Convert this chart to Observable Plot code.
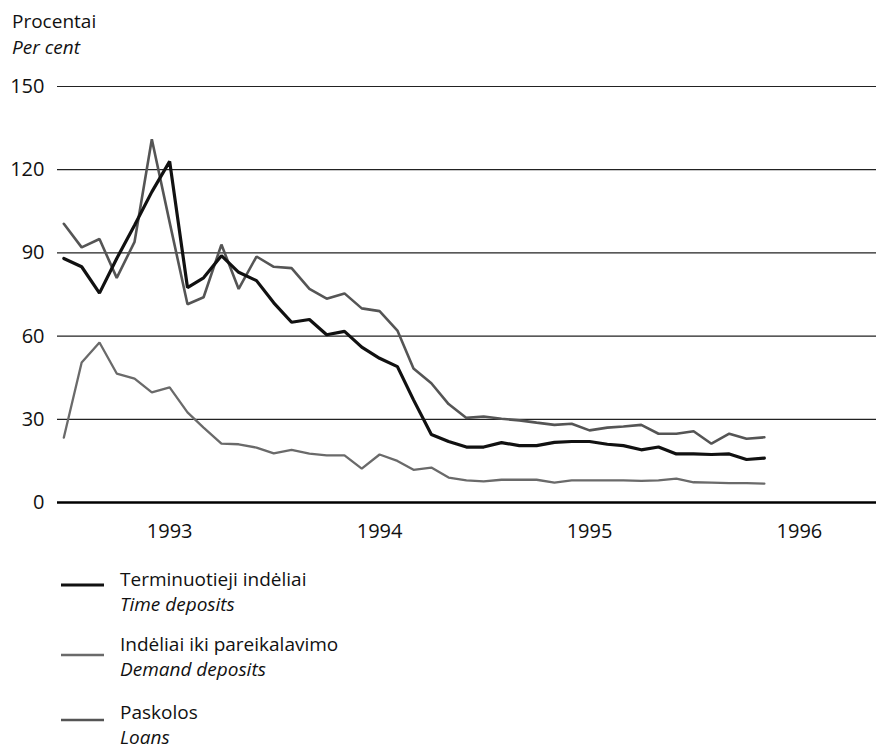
<!DOCTYPE html>
<html>
<head>
<meta charset="utf-8">
<script src="https://cdn.jsdelivr.net/npm/d3@7"></script>
<script src="https://cdn.jsdelivr.net/npm/@observablehq/plot@0.6"></script>
<style>
  body { margin: 0; background: #fff; font-family: "Open Sans", "Noto Sans", sans-serif; color: #111; }
  #wrap { position: relative; width: 876px; height: 749px; overflow: hidden; }
  .t { position: absolute; white-space: nowrap; }
  .h { font-size: 19px; line-height: 26px; }
  .l { font-size: 19px; line-height: 25px; }
  .i { font-style: italic; }
  #chart { position: absolute; left: 0; top: 60px; }
  .leg { position: absolute; left: 0; width: 876px; }
  .leg svg { position: absolute; left: 0; top: 0; }
</style>
</head>
<body>
<div id="wrap">
  <div class="t h" style="left:12px;top:8px;">Procentai</div>
  <div class="t h i" style="left:12px;top:34px;">Per cent</div>
  <div id="chart"></div>
  <div id="legend"></div>
</div>
<script>
// Monthly data, July 1992 – November 1995
const firstMonth = new Date(Date.UTC(1992, 6, 1));
const lastMonth = new Date(Date.UTC(1995, 10, 1));
const months = d3.utcMonth.range(firstMonth, d3.utcMonth.offset(lastMonth, 1));

const timeDeposits = [88, 85, 75.5, 88, 100, 112, 123, 77.5, 81, 89, 83, 80, 72, 65, 66, 60.5,
  61.7, 56, 52, 49, 37, 24.5, 22, 20, 20, 21.6, 20.5, 20.5, 21.7, 22, 22, 21,
  20.5, 19, 20, 17.5, 17.5, 17.3, 17.5, 15.5, 16];
const demandDeposits = [23.4, 50.5, 57.7, 46.5, 44.7, 39.7, 41.5, 32.5, 27, 21.2, 21, 19.8, 17.7, 19, 17.6, 17,
  17, 12.2, 17.3, 15, 11.8, 12.6, 9, 8, 7.6, 8.2, 8.2, 8.2, 7.2, 8, 8, 8,
  8, 7.8, 8, 8.6, 7.3, 7.2, 7, 7, 6.8];
const loans = [100.5, 92, 95, 81, 94, 131, 101, 71.5, 74, 93, 77, 88.7, 85, 84.5, 77, 73.5,
  75.4, 70, 69, 62, 48.3, 43, 35.5, 30.5, 31, 30.2, 29.6, 28.8, 28, 28.4, 26, 27,
  27.4, 28, 24.8, 24.8, 25.7, 21.2, 24.8, 23, 23.5];

const yTicks = [0, 30, 60, 90, 120, 150];
const yearTicks = ["1993", "1994", "1995", "1996"];

const seriesNames = [
  {lt: "Terminuotieji indėliai", en: "Time deposits", color: "#111", width: 3.2},
  {lt: "Indėliai iki pareikalavimo", en: "Demand deposits", color: "#6a6a6a", width: 2.3},
  {lt: "Paskolos", en: "Loans", color: "#555", width: 2.6}
];
const seriesValues = [timeDeposits, demandDeposits, loans];

const rows = seriesValues.map((vals, s) => vals.map((v, i) => ({date: months[i], value: v, s})));

const chart = Plot.plot({
  width: 876,
  height: 490,
  marginTop: 26,
  marginBottom: 48,
  marginLeft: 57,
  marginRight: 0,
  style: {fontFamily: "'Open Sans', 'Noto Sans', sans-serif", fontSize: "20px", color: "#111", background: "#fff"},
  x: {
    type: "utc",
    domain: [new Date(Date.UTC(1992, 5, 20)), new Date(Date.UTC(1996, 4, 14))],
    ticks: yearTicks.map(y => new Date(Date.UTC(+y, 0, 1))),
    tickFormat: d3.utcFormat("%Y"),
    tickSize: 0,
    tickPadding: 21,
    label: null
  },
  y: {
    domain: [0, 150],
    ticks: yTicks,
    tickSize: 0,
    tickPadding: 13,
    label: null
  },
  marks: [
    Plot.ruleY(yTicks.filter(d => d > 0), {stroke: "#222", strokeWidth: 1.2}),
    Plot.ruleY([0], {stroke: "#000", strokeWidth: 2.6}),
    Plot.line(rows[2], {x: "date", y: "value", stroke: seriesNames[2].color, strokeWidth: seriesNames[2].width, strokeLinejoin: "miter"}),
    Plot.line(rows[1], {x: "date", y: "value", stroke: seriesNames[1].color, strokeWidth: seriesNames[1].width, strokeLinejoin: "miter"}),
    Plot.line(rows[0], {x: "date", y: "value", stroke: seriesNames[0].color, strokeWidth: seriesNames[0].width, strokeLinejoin: "miter"})
  ]
});
document.getElementById("chart").appendChild(chart);

// Legend
const legendTops = [567, 632, 700];
const legendLineY = [18, 23, 20];
const legend = document.getElementById("legend");
seriesNames.forEach((s, k) => {
  const d = document.createElement("div");
  d.className = "leg";
  d.style.top = legendTops[k] + "px";
  d.innerHTML = `<svg width="120" height="40"><line x1="61" x2="104" y1="${legendLineY[k]}" y2="${legendLineY[k]}" stroke="${s.color}" stroke-width="${s.width}"/></svg>
    <div class="t l" style="left:120px;top:0px;">${s.lt}</div>
    <div class="t l i" style="left:120px;top:25px;">${s.en}</div>`;
  legend.appendChild(d);
});
</script>
</body>
</html>
